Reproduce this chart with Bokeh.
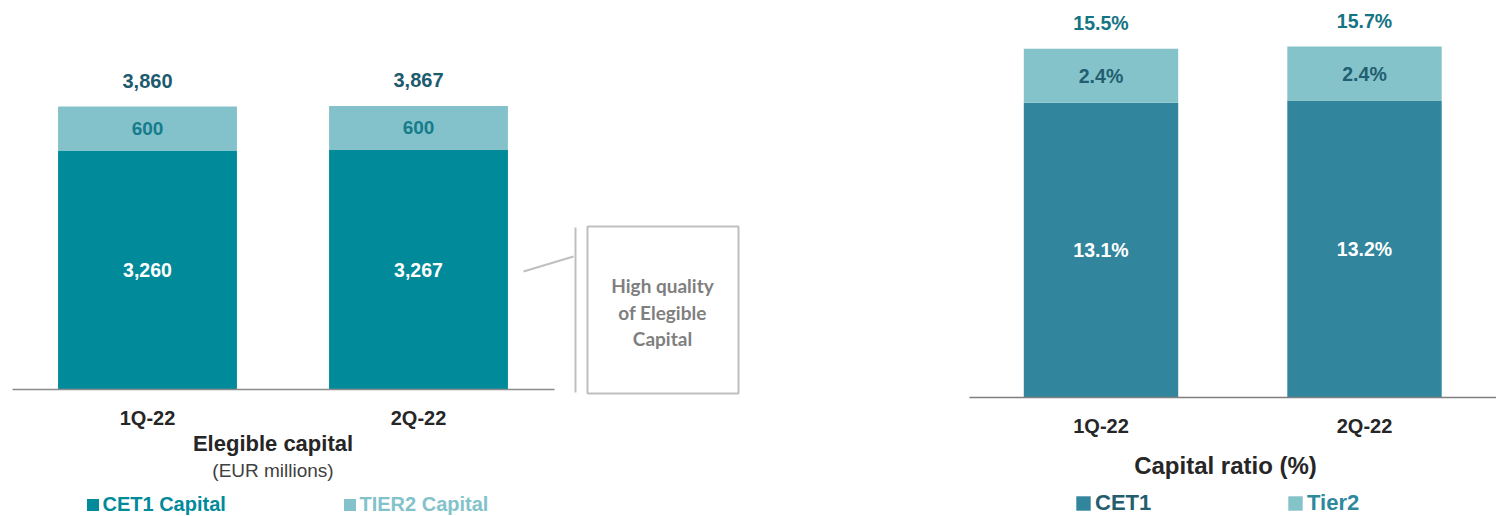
from bokeh.plotting import figure
from bokeh.layouts import row
from bokeh.models import Range1d, LinearAxis, FixedTicker, ColumnDataSource, Legend, LegendItem
from bokeh.core.properties import value
from bokeh.embed import file_html
from bokeh.resources import INLINE

# ---------------- data ----------------
quarters = ["1Q-22", "2Q-22"]
cet1_capital = [3260, 3267]
tier2_capital = [600, 600]
total_capital = [3860, 3867]
cet1_ratio = [13.1, 13.2]
tier2_ratio = [2.4, 2.4]
total_ratio = [15.5, 15.7]

FONT = "Liberation Sans"
H = 516


def make_panel(width, x_px0, x_scale, base_px, y_scale):
    xr = Range1d(-x_px0 / x_scale, (width - x_px0) / x_scale)
    yr = Range1d(-(H - base_px) / y_scale, base_px / y_scale)
    p = figure(width=width, height=H, x_range=xr, y_range=yr,
               output_backend="svg", toolbar_location=None,
               x_axis_type=None, y_axis_type=None)
    p.min_border_left = p.min_border_right = 0
    p.min_border_top = p.min_border_bottom = 0
    p.outline_line_color = None
    p.xgrid.visible = False
    p.ygrid.visible = False
    p.background_fill_color = "white"
    p.border_fill_color = "white"

    def px2x(px):
        return (px - x_px0) / x_scale

    def py2y(py):
        return (base_px - py) / y_scale

    return p, px2x, py2y


def add_axis(p, pos, color):
    ax = LinearAxis(fixed_location=0, ticker=FixedTicker(ticks=pos),
                    major_label_overrides={x: q for x, q in zip(pos, quarters)},
                    bounds=(0, len(quarters)))
    ax.axis_line_color = color
    ax.axis_line_width = 1.5
    ax.major_tick_line_color = None
    ax.minor_tick_line_color = None
    ax.major_label_standoff = 11
    ax.major_label_text_font = FONT
    ax.major_label_text_font_style = "bold"
    ax.major_label_text_font_size = "20px"
    ax.major_label_text_color = "#262626"
    p.add_layout(ax, "below")
    return ax


pos = [i + 0.5 for i in range(len(quarters))]

# ---------------- left: eligible capital ----------------
C_CET1 = "#008A9A"
C_T2 = "#83C2CA"
left, lx, ly = make_panel(760, 11.5, 271.0, 389.0, 283.0 / 3860.0)
stack_top = [a + b for a, b in zip(cet1_capital, tier2_capital)]
src_l = ColumnDataSource(dict(
    x=pos, q=quarters, cet1=cet1_capital, t2=tier2_capital, top=stack_top,
    cet1_mid=[c / 2 for c in cet1_capital],
    t2_mid=[c + t / 2 for c, t in zip(cet1_capital, tier2_capital)],
    cet1_lab=[f"{v:,}" for v in cet1_capital],
    t2_lab=[f"{v:,}" for v in tier2_capital],
    tot_lab=[f"{v:,}" for v in total_capital],
))
r_l1 = left.vbar(x="x", width=0.66, bottom=0, top="cet1", source=src_l,
                 fill_color=C_CET1, line_color=None)
r_l2 = left.vbar(x="x", width=0.66, bottom="cet1", top="top", source=src_l,
                 fill_color=C_T2, line_color=None)
left.text(x="x", y="cet1_mid", text="cet1_lab", source=src_l, text_align="center",
          text_baseline="middle", text_color="white", text_font=value(FONT),
          text_font_style="bold", text_font_size="19.5px")
left.text(x="x", y="t2_mid", text="t2_lab", source=src_l, text_align="center",
          text_baseline="middle", text_color="#157C8C", text_font=value(FONT),
          text_font_style="bold", text_font_size="19px")
left.text(x="x", y="top", text="tot_lab", source=src_l, y_offset=-26, text_align="center",
          text_baseline="middle", text_color="#1D5B6E", text_font=value(FONT),
          text_font_style="bold", text_font_size="20px")
add_axis(left, pos, "#8C8C8C")

left.text(x=[lx(272.5)], y=[ly(443)], text=["Elegible capital"], text_align="center",
          text_baseline="middle", text_color="#262626", text_font=value(FONT),
          text_font_style="bold", text_font_size="22px")
left.text(x=[lx(272.5)], y=[ly(470)], text=["(EUR millions)"], text_align="center",
          text_baseline="middle", text_color="#404040", text_font=value(FONT),
          text_font_size="19px")

# callout
CG = "#BFBFBF"
left.segment(x0=[lx(523), lx(575)], y0=[ly(271), ly(227)],
             x1=[lx(573), lx(575)], y1=[ly(256), ly(392)],
             line_color=CG, line_width=2)
left.quad(left=[lx(587)], right=[lx(738)], top=[ly(226)], bottom=[ly(393)],
          fill_color=None, line_color=CG, line_width=2)
left.text(x=[lx(662)] * 3, y=[ly(285), ly(312), ly(338)],
          text=["High quality", "of Elegible", "Capital"], text_align="center",
          text_baseline="middle", text_color="#7F7F7F", text_font=value("Lato"),
          text_font_style="bold", text_font_size="19px")


def legend(p, item, x, y, text_color, fs, gsize):
    lg = Legend(items=[item], location=(x, y), orientation="horizontal",
                glyph_width=gsize, glyph_height=gsize, label_standoff=3,
                padding=0, margin=0, spacing=0, border_line_color=None,
                background_fill_alpha=0, label_text_color=text_color,
                label_text_font=FONT, label_text_font_style="bold",
                label_text_font_size=fs)
    p.add_layout(lg, "center")


legend(left, LegendItem(label="CET1 Capital", renderers=[r_l1]), 84.5, 0, C_CET1, "20px", 15)
legend(left, LegendItem(label="TIER2 Capital", renderers=[r_l2]), 341.5, 0, C_T2, "20px", 15)

# ---------------- right: capital ratio ----------------
R_CET1 = "#31859C"
R_T2 = "#85C3CB"
right, rx, ry = make_panel(736, 208.75, 263.5, 397.0, 22.5)
rtop = [a + b for a, b in zip(cet1_ratio, tier2_ratio)]
src_r = ColumnDataSource(dict(
    x=pos, cet1=cet1_ratio, t2=tier2_ratio, top=rtop,
    cet1_mid=[c / 2 for c in cet1_ratio],
    t2_mid=[c + t / 2 for c, t in zip(cet1_ratio, tier2_ratio)],
    cet1_lab=[f"{v:.1f}%" for v in cet1_ratio],
    t2_lab=[f"{v:.1f}%" for v in tier2_ratio],
    tot_lab=[f"{v:.1f}%" for v in total_ratio],
))
r_r1 = right.vbar(x="x", width=0.586, bottom=0, top="cet1", source=src_r,
                  fill_color=R_CET1, line_color=None)
r_r2 = right.vbar(x="x", width=0.586, bottom="cet1", top="top", source=src_r,
                  fill_color=R_T2, line_color=None)
right.text(x="x", y="cet1_mid", text="cet1_lab", source=src_r, text_align="center",
           text_baseline="middle", text_color="white", text_font=value(FONT),
           text_font_style="bold", text_font_size="19.5px")
right.text(x="x", y="t2_mid", text="t2_lab", source=src_r, text_align="center",
           text_baseline="middle", text_color="#215F70", text_font=value(FONT),
           text_font_style="bold", text_font_size="19.5px")
right.text(x="x", y="top", text="tot_lab", source=src_r, y_offset=-26, text_align="center",
           text_baseline="middle", text_color="#137483", text_font=value(FONT),
           text_font_style="bold", text_font_size="19.5px")
add_axis(right, pos, "#7F7F7F")
right.text(x=[rx(465)], y=[ry(465)], text=["Capital ratio (%)"], text_align="center",
           text_baseline="middle", text_color="#262626", text_font=value(FONT),
           text_font_style="bold", text_font_size="24px")

legend(right, LegendItem(label="CET1", renderers=[r_r1]), 314, 0, "#245E6E", "22px", 18)
legend(right, LegendItem(label="Tier2", renderers=[r_r2]), 526, 0, "#2F899C", "22px", 18)

layout = row(left, right, spacing=0)
open("out.html", "w").write(file_html(layout, INLINE))
